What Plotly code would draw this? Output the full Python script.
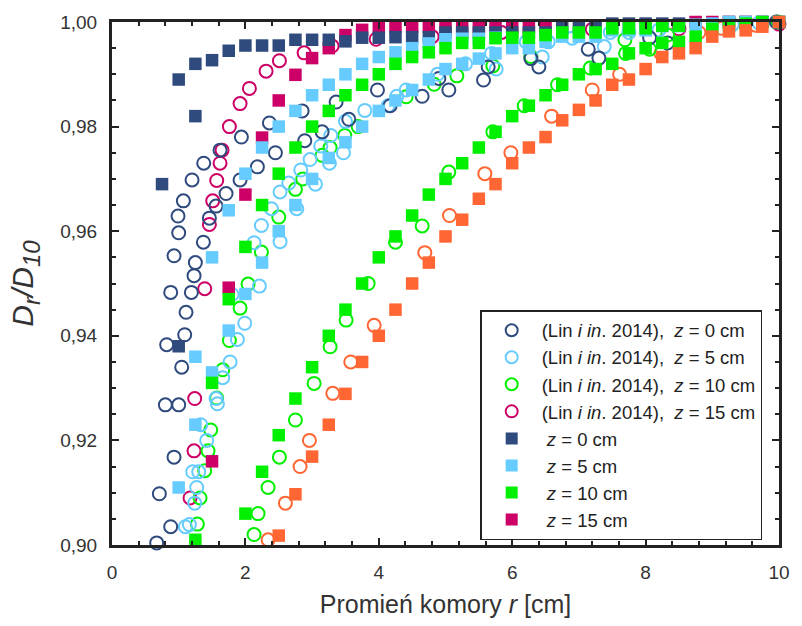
import plotly.graph_objects as go

# ---------------- data ----------------
# open circles: Lin i in. 2014
c0_x = [0.67, 0.86, 0.88, 0.71, 0.93, 0.80, 1.00, 1.045, 0.82, 1.09, 1.11, 0.88, 1.19, 1.23, 1.25, 0.93,
        1.37, 1.00, 1.46, 0.99, 1.56, 1.07, 1.71, 1.20, 1.92, 1.375, 1.62, 1.94, 2.18, 2.36, 2.45, 2.85,
        2.89, 3.15, 3.36, 3.55, 3.98, 4.17, 4.65, 4.90, 5.05, 5.57, 5.64, 6.28, 6.40, 7.14, 7.30, 8.06,
        8.33, 9.96]
c0_y = [0.9004, 0.8998, 0.9035, 0.9098, 0.9168, 0.9268, 0.9268, 0.9340, 0.9383, 0.9402, 0.9445, 0.9483,
        0.9483, 0.9515, 0.9540, 0.9553, 0.9579, 0.9597, 0.9625, 0.9629, 0.9648, 0.9658, 0.9672, 0.9698,
        0.9698, 0.9730, 0.9755, 0.9780, 0.9723, 0.9807, 0.9750, 0.9830, 0.9773, 0.9790, 0.9847, 0.9814,
        0.9870, 0.9840, 0.9858, 0.9892, 0.9870, 0.9889, 0.9914, 0.9930, 0.9914, 0.9948, 0.9931, 0.9970,
        0.9960, 1.0000]

c5_x = [1.11, 1.10, 1.16, 1.24, 1.27, 1.21, 1.30, 1.42, 1.33, 1.58, 1.56, 1.66, 1.77, 1.88, 1.99, 1.80,
        2.21, 2.13, 2.52, 2.24, 2.39, 2.52, 2.65, 2.77, 3.05, 2.83, 2.97, 3.13, 3.26, 3.28, 3.47, 3.50,
        3.79, 4.14, 4.27, 4.41, 4.88, 5.30, 5.69, 5.76, 6.21, 6.45, 6.54, 6.90, 7.38, 7.47, 7.75, 8.20,
        9.30, 9.70]
c5_y = [0.8998, 0.9035, 0.9039, 0.9080, 0.9110, 0.9140, 0.9140, 0.9200, 0.9230, 0.9270, 0.9280, 0.9320,
        0.9350, 0.9393, 0.9424, 0.9479, 0.9495, 0.9578, 0.9580, 0.9611, 0.9643, 0.9675, 0.9692, 0.9643,
        0.9690, 0.9717, 0.9737, 0.9763, 0.9730, 0.9783, 0.9750, 0.9810, 0.9831, 0.9840, 0.9858, 0.9870,
        0.9900, 0.9920, 0.9940, 0.9910, 0.9962, 0.9933, 0.9962, 0.9969, 0.9953, 0.9980, 0.9980, 0.9985,
        0.9995, 0.9998]

c10_x = [2.08, 2.13, 2.19, 1.28, 2.34, 2.51, 2.75, 3.03, 1.32, 1.39, 1.44, 1.48, 1.57, 1.66, 1.76, 1.92,
         2.04, 2.24, 2.50, 2.75, 2.86, 3.15, 3.27, 3.49, 3.69, 4.41, 4.83, 5.17, 5.71, 5.71, 5.05, 6.18,
         6.68, 6.28, 4.65, 4.25, 3.84, 3.51, 3.27, 7.17, 7.69, 7.70, 8.06, 8.33, 9.98]
c10_y = [0.8998, 0.9020, 0.9060, 0.9040, 0.9110, 0.9168, 0.9239, 0.9309, 0.9090, 0.9142, 0.9180, 0.9220,
         0.9281, 0.9335, 0.9391, 0.9453, 0.9499, 0.9560, 0.9627, 0.9680, 0.9700, 0.9745, 0.9760, 0.9783,
         0.9800, 0.9857, 0.9881, 0.9897, 0.9916, 0.9790, 0.9713, 0.9840, 0.9880, 0.9934, 0.9610, 0.9579,
         0.9500, 0.9430, 0.9379, 0.9912, 0.9966, 0.9940, 0.9948, 0.9975, 1.0000]

c15_x = [1.14, 1.17, 1.23, 1.24, 1.39, 1.46, 1.51, 1.57, 1.62, 1.65, 1.76, 1.92, 2.06, 2.31, 2.51, 2.88,
         3.30, 3.96, 4.80, 5.84, 7.20, 8.50, 10.0]
c15_y = [0.8998, 0.9090, 0.9180, 0.9280, 0.9490, 0.9613, 0.9658, 0.9697, 0.9730, 0.9755, 0.9800, 0.9844,
         0.9873, 0.9906, 0.9926, 0.9941, 0.9954, 0.9967, 0.9972, 0.9980, 0.9986, 0.9987, 0.9996]

c20_x = [2.34, 2.60, 2.82, 2.96, 3.31, 3.58, 3.93, 4.69, 5.06, 5.59, 5.98, 6.59, 7.20, 7.61, 8.23, 8.80,
         9.14, 9.65]
c20_y = [0.9010, 0.9080, 0.9150, 0.9200, 0.9290, 0.9350, 0.9420, 0.9559, 0.9630, 0.9710, 0.9750, 0.9820,
         0.9870, 0.9900, 0.9940, 0.9980, 0.9988, 0.9994]

# filled squares: simulation
s0_x = [0.75, 1.0, 1.0, 1.25, 1.25, 1.5, 1.75, 2.0, 2.25, 2.5, 2.75, 3.0, 3.25, 3.5, 3.75, 4.0, 4.25, 4.5,
        4.75, 5.0, 5.25, 5.5, 5.75, 6.0, 6.25, 6.5, 6.75, 7.0, 7.25, 7.5, 7.75, 8.0, 8.25, 8.5, 8.75, 9.0,
        9.25, 9.5, 9.75, 10.0]
s0_y = [0.9690, 0.9890, 0.9380, 0.9920, 0.9820, 0.9927, 0.9945, 0.9955, 0.9955, 0.9955, 0.9966, 0.9966,
        0.9966, 0.9963, 0.9970, 0.9970, 0.9971, 0.9971, 0.9971, 0.9980, 0.9980, 0.9980, 0.9980, 0.9980,
        0.9980, 0.9980, 0.9990, 0.9990, 0.9990, 0.9997, 0.9997, 0.9997, 0.9997, 0.9997, 1.0003, 1.0003,
        1.0000, 1.0000, 1.0000, 1.0000]

s5_x = [1.0, 1.25, 1.25, 1.5, 1.5, 1.75, 1.75, 2.0, 2.0, 2.25, 2.25, 2.5, 2.5, 2.75, 2.75, 3.0, 3.0, 3.25,
        3.25, 3.5, 3.5, 3.75, 3.75, 4.0, 4.0, 4.25, 4.25, 4.5, 4.5, 4.75, 4.75, 5.0, 5.0, 5.25, 5.25, 5.5,
        5.5, 5.75, 5.75, 6.0, 6.25, 6.5, 6.75, 7.0, 7.25, 7.5, 7.75, 8.0, 8.25, 8.5, 8.75, 9.0, 9.25, 9.5,
        9.75, 10.0]
s5_y = [0.9110, 0.9230, 0.9360, 0.9330, 0.9550, 0.9410, 0.9640, 0.9480, 0.9710, 0.9540, 0.9760, 0.9600,
        0.9800, 0.9650, 0.9830, 0.9700, 0.9860, 0.9740, 0.9880, 0.9770, 0.9900, 0.9800, 0.9920, 0.9830,
        0.9933, 0.9850, 0.9942, 0.9870, 0.9950, 0.9890, 0.9959, 0.9910, 0.9967, 0.9920, 0.9968, 0.9930,
        0.9968, 0.9940, 0.9970, 0.9950, 0.9950, 0.9962, 0.9972, 0.9972, 0.9972, 0.9984, 0.9984, 0.9984,
        0.9992, 0.9992, 0.9995, 0.9997, 1.0000, 1.0000, 1.0000, 1.0000]

s10_x = [1.25, 1.5, 1.75, 2.0, 2.25, 2.5, 2.75, 3.0, 3.25, 3.5, 3.75, 4.0, 4.25, 4.5, 4.75, 5.0, 5.25, 5.5,
         5.75, 6.0, 6.25, 6.5, 6.75, 7.0, 7.25, 7.5, 7.75, 8.0, 8.25, 8.5,
         2.0, 2.25, 2.5, 2.75, 3.0, 3.25, 3.5, 3.75, 4.0, 4.25, 4.5, 4.75, 5.0, 5.25, 5.5, 5.75, 6.0, 6.25,
         6.5, 6.75, 7.0, 7.25, 7.5, 7.75, 8.0, 8.25, 8.5, 8.75, 9.0, 9.25, 9.5, 9.75, 10.0]
s10_y = [0.9010, 0.9310, 0.9470, 0.9570, 0.9650, 0.9710, 0.9760, 0.9800, 0.9830, 0.9860, 0.9880, 0.9900,
         0.9920, 0.9933, 0.9942, 0.9950, 0.9960, 0.9960, 0.9969, 0.9970, 0.9970, 0.9975, 0.9980, 0.9980,
         0.9980, 0.9988, 0.9988, 0.9988, 0.9993, 0.9993,
         0.9060, 0.9140, 0.9210, 0.9280, 0.9340, 0.9400, 0.9450, 0.9500, 0.9550, 0.9590, 0.9630, 0.9670,
         0.9700, 0.9730, 0.9760, 0.9790, 0.9820, 0.9840, 0.9860, 0.9880, 0.9900, 0.9910, 0.9920, 0.9940,
         0.9950, 0.9960, 0.9962, 0.9972, 0.9987, 0.9994, 0.9997, 1.0000, 1.0000]

s15_x = [1.5, 1.75, 2.0, 2.25, 2.5, 2.75, 3.0, 3.25, 3.5, 3.75, 4.0, 4.25, 4.5, 4.75, 5.0, 5.25, 5.5, 5.75,
         6.0, 6.25, 6.5, 6.75, 7.0, 7.25, 7.5, 7.75, 8.0, 8.25, 8.5, 8.75, 9.0, 9.25, 9.5, 9.75, 10.0]
s15_y = [0.9160, 0.9492, 0.9670, 0.9779, 0.9850, 0.9899, 0.9931, 0.9950, 0.9975, 0.9985, 0.9988, 0.9991,
         0.9991, 0.9991, 0.9991, 0.9991, 0.9991, 0.9991, 0.9991, 0.9991, 0.9991, 1.0006, 1.0006, 1.0006,
         1.0006, 1.0006, 1.0006, 1.0006, 1.0006, 1.0000, 1.0000, 1.0000, 1.0000, 1.0000, 1.0000]

s20_x = [2.5, 2.75, 3.0, 3.25, 3.5, 3.75, 4.0, 4.25, 4.5, 4.75, 5.0, 5.25, 5.5, 5.75, 6.0, 6.25, 6.5, 6.75,
         7.0, 7.25, 7.5, 7.75, 8.0, 8.25, 8.5, 8.75, 9.0, 9.25, 9.5, 9.75, 10.0]
s20_y = [0.9018, 0.9097, 0.9169, 0.9230, 0.9289, 0.9350, 0.9400, 0.9450, 0.9500, 0.9540, 0.9590, 0.9622,
         0.9662, 0.9690, 0.9730, 0.9760, 0.9780, 0.9812, 0.9832, 0.9850, 0.9880, 0.9890, 0.9910, 0.9933,
         0.9940, 0.9950, 0.9972, 0.9982, 0.9984, 0.9991, 1.0000]

NAVY = "#2F4A7D"
LBLUE = "#66CCFF"
GREEN = "#00F000"
MAGENTA = "#CC0066"
ORANGE = "#FF6633"

lin_names = ["(Lin <i>i in</i>. 2014),\u00a0\u00a0<i>z</i> = 0 cm",
             "(Lin <i>i in</i>. 2014),\u00a0\u00a0<i>z</i> = 5 cm",
             "(Lin <i>i in</i>. 2014),\u00a0\u00a0<i>z</i> = 10 cm",
             "(Lin <i>i in</i>. 2014),\u00a0\u00a0<i>z</i> = 15 cm"]
sim_names = ["\u00a0<i>z</i> = 0 cm", "\u00a0<i>z</i> = 5 cm",
             "\u00a0<i>z</i> = 10 cm", "\u00a0<i>z</i> = 15 cm"]

fig = go.Figure()

CSIZE = 13
SSIZE = 12.5

def circ(x, y, color, name, rank, show=True):
    fig.add_trace(go.Scatter(x=x, y=y, mode="markers", name=name, showlegend=show,
                             legendrank=rank, cliponaxis=False,
                             marker=dict(symbol="circle-open", size=CSIZE, color=color,
                                         line=dict(width=2, color=color))))

def sq(x, y, color, name, rank, show=True):
    fig.add_trace(go.Scatter(x=x, y=y, mode="markers", name=name, showlegend=show,
                             legendrank=rank, cliponaxis=False,
                             marker=dict(symbol="square", size=SSIZE, color=color,
                                         line=dict(width=0))))

circ(c20_x, c20_y, ORANGE, "Lin z=20", 100, show=False)
circ(c15_x, c15_y, MAGENTA, lin_names[3], 4)
circ(c10_x, c10_y, GREEN, lin_names[2], 3)
circ(c5_x, c5_y, LBLUE, lin_names[1], 2)
circ(c0_x, c0_y, NAVY, lin_names[0], 1)
sq(s15_x, s15_y, MAGENTA, sim_names[3], 8)
sq(s0_x, s0_y, NAVY, sim_names[0], 5)
sq(s5_x, s5_y, LBLUE, sim_names[1], 6)
sq(s10_x, s10_y, GREEN, sim_names[2], 7)
sq(s20_x, s20_y, ORANGE, "z=20", 101, show=False)

FONT = "Liberation Sans, Arial, sans-serif"
AX = "#222222"

ytitle = ('<i>D<sub><span style="font-size:24px">r</span></sub>/'
          'D<sub><span style="font-size:24px">10</span></sub></i>')

fig.update_layout(
    width=802, height=626,
    margin=dict(l=112, r=14, t=22, b=72),
    paper_bgcolor="white", plot_bgcolor="white",
    separators=",.",
    font=dict(family=FONT, size=18, color="#333333"),
    legend=dict(x=0.552, y=0.449, xanchor="left", yanchor="top",
                bgcolor="white", bordercolor="#222222", borderwidth=1.5,
                font=dict(family=FONT, size=18.5, color="#222222"),
                itemwidth=50, itemsizing="constant", tracegroupgap=0),
    xaxis=dict(range=[0, 10], tickmode="linear", tick0=0, dtick=2,
               showline=True, linecolor=AX, linewidth=3, mirror="ticks",
               ticks="inside", ticklen=7, tickwidth=2, tickcolor=AX,
               minor=dict(dtick=0.4, tick0=0, ticks="inside", ticklen=4, tickwidth=2, tickcolor=AX),
               showgrid=False, zeroline=False,
               tickfont=dict(size=19, color="#333333"), ticklabelstandoff=8,
               title=dict(text="Promień komory <i>r</i> [cm]", font=dict(size=25, color="#333333"),
                          standoff=14)),
    yaxis=dict(range=[0.9, 1.0], tickmode="linear", tick0=0.9, dtick=0.02, tickformat=".2f",
               showline=True, linecolor=AX, linewidth=3, mirror="ticks",
               ticks="inside", ticklen=7, tickwidth=2, tickcolor=AX,
               minor=dict(dtick=0.005, tick0=0.9, ticks="inside", ticklen=4, tickwidth=2, tickcolor=AX),
               showgrid=False, zeroline=False,
               tickfont=dict(size=19, color="#333333"), ticklabelstandoff=8,
               title=dict(text=ytitle, font=dict(size=30, color="#333333"), standoff=18)),
)

fig.write_html("out.html", config={"displayModeBar": False},
               post_script=("document.body.style.margin='0px';"
                            "document.body.style.overflow='hidden';"
                            "document.documentElement.style.overflow='hidden';"))
